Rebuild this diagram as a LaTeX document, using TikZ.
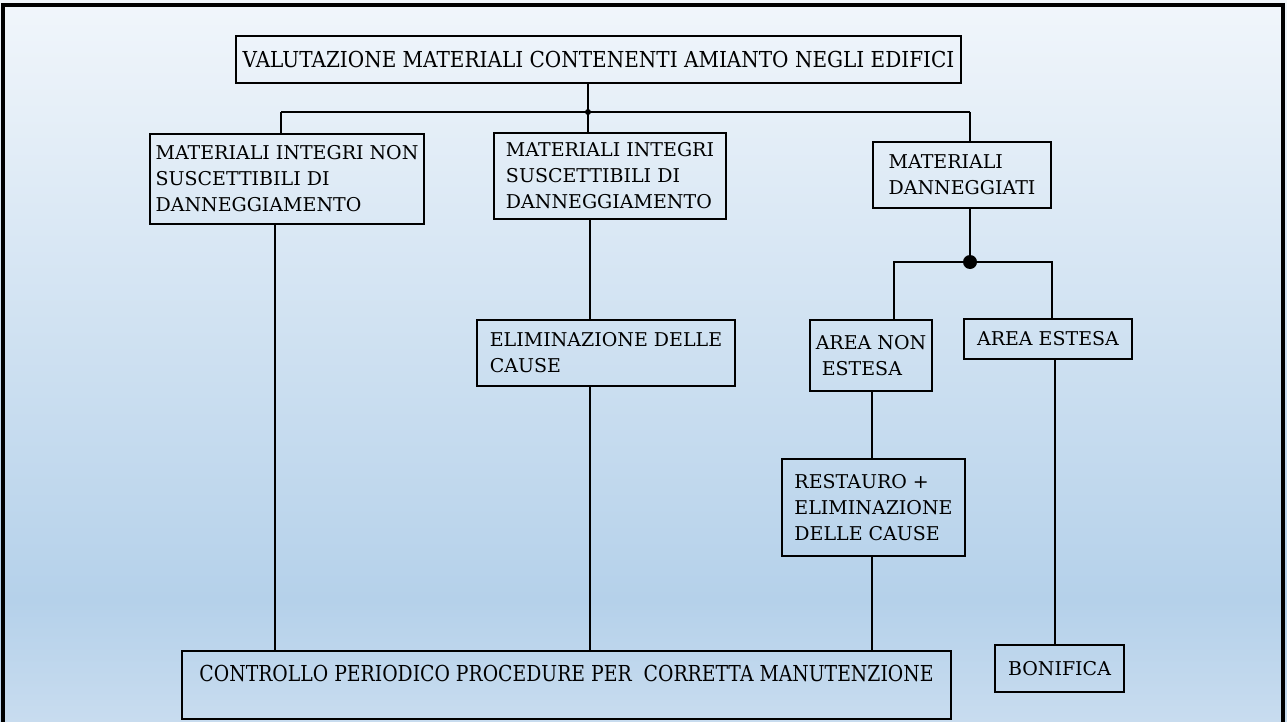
\documentclass[tikz,border=0pt]{standalone}
\usepackage{fontspec}
\setmainfont{DejaVu Serif}
\newfontfamily\titlefont{DejaVu Serif}[FakeStretch=0.91]
\newfontfamily\footfont{DejaVu Serif}[FakeStretch=0.855]
\usetikzlibrary{positioning}

\definecolor{skytop}{HTML}{F1F6FB}
\definecolor{skymid}{HTML}{B5D1EA}
\definecolor{skybot}{HTML}{C8DCEF}

\tikzstyle{box}=[draw,black,rectangle,line width=1.6pt,align=left,inner sep=0pt,text=black,font=\fontsize{19}{26}\selectfont]
\tikzstyle{head}=[box,font=\titlefont\fontsize{22}{26}\selectfont]
\tikzstyle{foot}=[box,font=\footfont\fontsize{22}{26}\selectfont]
\tikzstyle{link}=[draw,line width=1.6pt,black]

\begin{document}
\begin{tikzpicture}[x=1pt,y=-1pt]

	\useasboundingbox (0,0) rectangle (1287,722);
	\shade[top color=skytop,bottom color=skymid] (0,0) rectangle (1287,600);
	\shade[top color=skymid,bottom color=skybot] (0,600) rectangle (1287,722);
	\begin{scope}
	\clip (0,0) rectangle (1287,722);
	\draw[line width=4pt] (2.5,5.5) rectangle (1282.5,740);
	\end{scope}

	\node[head,minimum width=725,minimum height=47] (val) at (598.5,59.5)
	{VALUTAZIONE MATERIALI CONTENENTI AMIANTO NEGLI EDIFICI};

	\node[box,minimum width=274,minimum height=90] (int1) at (287,179)
	{MATERIALI INTEGRI NON\\SUSCETTIBILI DI\\DANNEGGIAMENTO};
	\node[box,minimum width=232,minimum height=86] (int2) at (610,176)
	{MATERIALI INTEGRI\\SUSCETTIBILI DI\\DANNEGGIAMENTO};
	\node[box,minimum width=178,minimum height=66] (dan) at (962,175)
	{MATERIALI\\DANNEGGIATI};

	\node[box,minimum width=258,minimum height=66] (eli) at (606,353)
	{ELIMINAZIONE DELLE\\CAUSE};
	\node[box,minimum width=122,minimum height=71] (anon) at (871,355.5)
	{AREA NON\\\ ESTESA};
	\node[box,minimum width=168,minimum height=40] (aest) at (1048,339)
	{AREA ESTESA};

	\node[box,minimum width=183,minimum height=97] (res) at (873.5,507.5)
	{RESTAURO +\\ELIMINAZIONE\\DELLE CAUSE};

	\node[foot,minimum width=769,minimum height=68,text height=23pt,text depth=31pt] (ctr) at (566.5,685)
	{CONTROLLO PERIODICO PROCEDURE PER\ \ CORRETTA MANUTENZIONE};
	\node[box,minimum width=129,minimum height=47] (bon) at (1059.5,668.5)
	{BONIFICA};

% % % junctions
	\coordinate (j1) at (588,112);
	\coordinate (h1) at (281,112);
	\coordinate (h3) at (970,112);
	\coordinate (j2) at (970,262);
	\coordinate (k1) at (894,262);
	\coordinate (k2) at (1052,262);
	\coordinate (v1) at (275,0);
	\coordinate (v2) at (590,0);
	\coordinate (v3) at (872,0);
	\coordinate (v4) at (1055,0);

	\path[link] (val.south -| j1) -- (j1);
	\path[link] (h1) -- (h3);
	\path[link] (h1) -- (h1 |- int1.north);
	\path[link] (j1) -- (j1 |- int2.north);
	\path[link] (h3) -- (h3 |- dan.north);
	\fill (j1) circle (3);

	\path[link] (j2 |- dan.south) -- (j2);
	\path[link] (k1 |- anon.north) -- (k1) -- (k2) -- (k2 |- aest.north);
	\fill (j2) circle (7);

	\path[link] (int1.south -| v1) -- (ctr.north -| v1);
	\path[link] (int2.south -| v2) -- (eli.north -| v2);
	\path[link] (eli.south -| v2) -- (ctr.north -| v2);
	\path[link] (anon.south -| v3) -- (res.north -| v3);
	\path[link] (res.south -| v3) -- (ctr.north -| v3);
	\path[link] (aest.south -| v4) -- (bon.north -| v4);

\end{tikzpicture}
\end{document}
